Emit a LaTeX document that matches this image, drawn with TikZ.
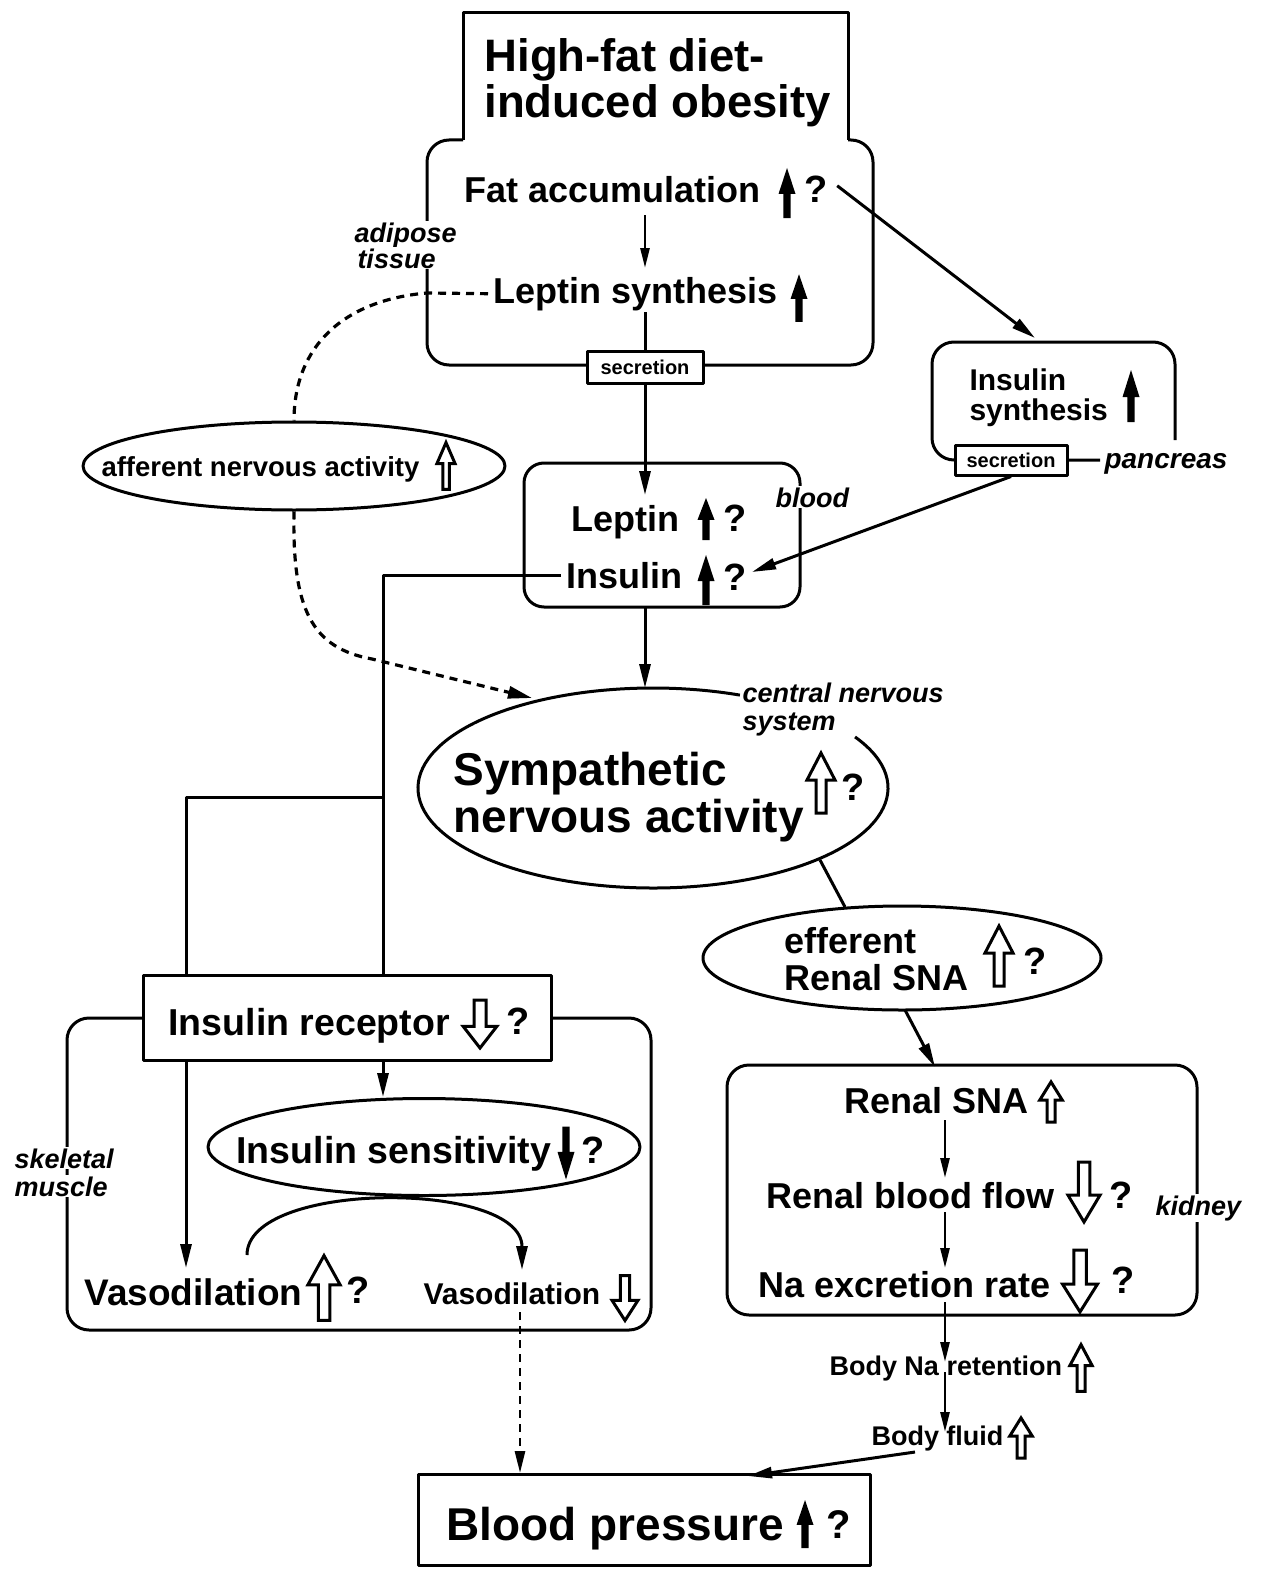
\documentclass[tikz,border=0pt]{standalone}
\usepackage{fontspec}
\setmainfont{Liberation Sans}
\usetikzlibrary{arrows.meta,shapes.geometric}
\begin{document}
\begin{tikzpicture}[x=1pt,y=-1pt,line width=3pt,line join=round,
  fs/.style={font=\fontsize{#1}{#1}\selectfont\bfseries, inner sep=0pt, anchor=base west},
  fi/.style={font=\fontsize{#1}{#1}\selectfont\bfseries\itshape, inner sep=1pt, anchor=base west, fill=white},
  arr/.style={-{Triangle[length=24pt,width=11pt]}},
  thinarr/.style={line width=2.6pt,-{Triangle[length=20pt,width=9pt]}},
  dsh/.style={line width=3.2pt,dash pattern=on 8pt off 6pt},
  secbox/.style={draw,fill=white,font=\fontsize{20}{20}\selectfont\bfseries,inner sep=0pt,minimum height=32pt},
  rbox/.style={draw,rounded corners=22pt,inner sep=0pt},
  ell/.style={ellipse,draw,inner sep=0pt},
  sarr/.pic={\fill (0,-25) -- (8.5,1) -- (3.7,1) -- (3.7,25) -- (-3.7,25) -- (-3.7,1) -- (-8.5,1) -- cycle;},
  oarr/.pic={\draw[line width=3pt,fill=white,line join=miter] (0,-30) -- (14,-3) -- (5,-3) -- (5,30) -- (-5,30) -- (-5,-3) -- (-14,-3) -- cycle;}
]
\useasboundingbox[fill=white] (0,0) rectangle (1261,1573);

% ---------- adipose tissue + title ----------
\draw[rounded corners=22pt] (463,140) -- (427,140) -- (427,365) -- (873,365) -- (873,140) -- (848,140);
\draw (463,140) -- (463,13) -- (848,13) -- (848,140);
\node[fs=45.5] (t1) at (483,72) {High-fat diet-};
\node[fs=45.5] (t2) at (483,118) {induced obesity};

\node[fs=36] (fat) at (463,202) {Fat accumulation};
\pic at (787,193) {sarr};
\node[fs=38] (fatq) at (803,203) {?};
\coordinate (fatb) at (645,215);
\coordinate (lept) at (645,268);
\draw[thinarr] (fatb) -- (lept);

\node[fs=36] (lepsyn) at (492,303) {Leptin synthesis};
\pic[yscale=0.95] at (799,298) {sarr};
\node[fi=27] (adi1) at (352,242) {adipose};
\node[fi=27] (adi2) at (355,268) {tissue};

\node[secbox,minimum width=116pt] (sec1) at (645,367) {secretion};
\coordinate (lepb) at (645,312);
\draw (lepb) -- (sec1.north);

% ---------- afferent ----------
\node[ell,minimum width=422pt,minimum height=88pt] (aff) at (294,466) {};
\node[fs=27.5] (afft) at (100,476) {afferent nervous activity};
\pic[xscale=0.65,yscale=0.78] at (446,466) {oarr};
\coordinate (dk) at (427,293);
\draw[dsh] ([xshift=-4pt]lepsyn.west) -- (dk) .. controls (345,300) and (294,345) .. (aff.north);

% ---------- insulin synthesis (pancreas) ----------
\draw[rounded corners=22pt] (1175,440) -- (1175,342) -- (932,342) -- (932,460) -- (1100,460);
\node[secbox,minimum width=112pt,minimum height=30pt] (sec2) at (1011,460) {secretion};
\node[fi=28] (panc) at (1102,468) {pancreas};
\node[fs=30] (is1) at (968,390) {Insulin};
\node[fs=30] (is2) at (968,420) {synthesis};
\pic[yscale=1.04] at (1131,396) {sarr};
\coordinate (insTop) at (1035,338);
\draw[arr] (fatq.east) ++(8,-4) -- (insTop);

% ---------- blood ----------
\node[rbox,rounded corners=20pt,minimum width=276pt,minimum height=144pt] (blood) at (662,535) {};
\node[fi=27] (bloodl) at (773,507) {blood};
\node[fs=36] (lep) at (570,531) {Leptin};
\pic[yscale=0.84] at (706,519) {sarr};
\node[fs=38] (lepq) at (722,531) {?};
\node[fs=36] (ins) at (565,588) {Insulin};
\pic at (706,580) {sarr};
\node[fs=38] (insq) at (722,590) {?};
\coordinate (bloodin) at (645,495);
\draw[arr] (sec1.south) -- (bloodin);
\draw[arr] (sec2.south) -- (752,572);

% ---------- sympathetic ----------
\node[ellipse,inner sep=0pt,minimum width=470pt,minimum height=200pt] (symp) at (653,788) {};
\draw (symp.center) ++(-30.7:235 and 100) arc[start angle=-30.7,end angle=291.7,x radius=235,y radius=100];
\node[fi=27] (cns1) at (740,702) {central nervous};
\node[fi=27] (cns2) at (740,730) {system};
\node[fs=46] (sy1) at (452,785) {Sympathetic};
\node[fs=46] (sy2) at (452,832) {nervous activity};
\pic at (821,783) {oarr};
\node[fs=38] (syq) at (840,800) {?};
\coordinate (bloodout) at (645,607);
\coordinate (sympin) at (645,688);
\draw[arr] (bloodout) -- (sympin);
\coordinate (sympaff) at (532,698);
\draw[dsh,-{Triangle[length=24pt,width=12pt]}] (aff.south) .. controls (292,610) and (312,648) .. (372,659) -- (sympaff);

% ---------- insulin line ----------
\coordinate (ir1) at (383,975);
\coordinate (ir2) at (186,975);
\coordinate (br) at (383,797);
\draw ([xshift=-4pt]ins.west) -| (ir1);
\draw (br) -| (ir2);

% ---------- efferent ----------
\node[ell,minimum width=398pt,minimum height=104pt] (eff) at (902,958) {};
\node[fs=36] (ef1) at (783,953) {efferent};
\node[fs=36] (ef2) at (783,990) {Renal SNA};
\pic at (999,956) {oarr};
\node[fs=38] (efq) at (1022,974) {?};
\coordinate (sympout) at (820,860);
\coordinate (effin) at (845,907);
\draw (sympout) -- (effin);

% ---------- kidney ----------
\node[rbox,minimum width=470pt,minimum height=250pt] (kid) at (962,1190) {};
\node[fi=27] (kidl) at (1153,1215) {kidney};
\coordinate (effout) at (905,1010);
\coordinate (kidin) at (935,1067);
\draw[arr] (effout) -- (kidin);
\node[fs=36] (rs) at (843,1113) {Renal SNA};
\pic[xscale=0.8,yscale=0.67] at (1051,1102) {oarr};
\node[fs=36] (rbf) at (765,1208) {Renal blood flow};
\pic[xscale=1.15,yscale=-1] at (1084,1192) {oarr};
\node[fs=38] (rbfq) at (1108,1208) {?};
\node[fs=36] (na) at (757,1297) {Na excretion rate};
\pic[xscale=1.25,yscale=-1.03] at (1080,1281) {oarr};
\node[fs=38] (naq) at (1110,1293) {?};
\coordinate (k1) at (945,1120); \coordinate (k2) at (945,1178);
\coordinate (k3) at (945,1212); \coordinate (k4) at (945,1268);
\draw[thinarr] (k1) -- (k2);
\draw[thinarr] (k3) -- (k4);
\node[fs=27] (bna) at (828,1375) {Body Na retention};
\pic[xscale=0.8,yscale=0.78] at (1081,1368) {oarr};
\node[fs=27] (bf) at (870,1445) {Body fluid};
\pic[xscale=0.8,yscale=0.67] at (1021,1438) {oarr};
\coordinate (k5) at (945,1302); \coordinate (k6) at (945,1362);
\coordinate (k7) at (945,1372); \coordinate (k8) at (945,1432);
\draw[thinarr] (k5) -- (k6);
\draw[thinarr] (k7) -- (k8);

% ---------- skeletal muscle ----------
\node[rbox,minimum width=584pt,minimum height=312pt] (skm) at (359,1174) {};
\node[fi=27] (skl1) at (12,1168) {skeletal};
\node[fi=27] (skl2) at (12,1196) {muscle};
\node[draw,fill=white,inner sep=0pt,minimum width=408pt,minimum height=85pt] (irec) at (347,1017.5) {};
\node[fs=37.5] (irt) at (167,1035) {Insulin receptor};
\pic[xscale=1.2,yscale=-0.8] at (480,1024) {oarr};
\node[fs=38] (irq) at (505,1034) {?};
\node[ell,minimum width=432pt,minimum height=97pt] (isens) at (424,1147) {};
\node[fs=37.5] (ist) at (235,1163) {Insulin sensitivity};
\pic[yscale=-1.06] at (566,1153) {sarr};
\node[fs=38] (isq) at (580,1163) {?};
\coordinate (r1) at (186,1060); \coordinate (v1) at (186,1268);
\coordinate (r2) at (383,1060);
\draw[arr] (r1) -- (v1);
\draw[arr] (r2) -- (isens.north -| r2);
\node[fs=37] (vas1) at (83,1305) {Vasodilation};
\pic[xscale=1.15,yscale=1.08] at (324,1288) {oarr};
\node[fs=38] (vas1q) at (345,1303) {?};
\node[fs=30] (vas2) at (422,1304) {Vasodilation};
\pic[xscale=0.93,yscale=-0.75] at (625,1298) {oarr};
\coordinate (c1) at (247,1255); \coordinate (c2) at (522,1270);
\draw[arr] (c1) .. controls (247,1180) and (522,1180) .. (c2);

% ---------- blood pressure ----------
\node[draw,inner sep=0pt,minimum width=452pt,minimum height=91pt] (bp) at (644,1520) {};
\node[fs=46] (bpt) at (445,1540) {Blood pressure};
\pic[yscale=0.96] at (805,1524) {sarr};
\node[fs=40] (bpq) at (825,1538) {?};
\coordinate (vd) at (520,1312);
\draw[dsh,line width=2.6pt,-{Triangle[length=22pt,width=10pt]}] (vd) -- (vd |- bp.north);
\coordinate (bfo) at (915,1452);
\coordinate (bpin) at (748,1476);
\draw[arr] (bfo) -- (bpin);
\end{tikzpicture}
\end{document}
